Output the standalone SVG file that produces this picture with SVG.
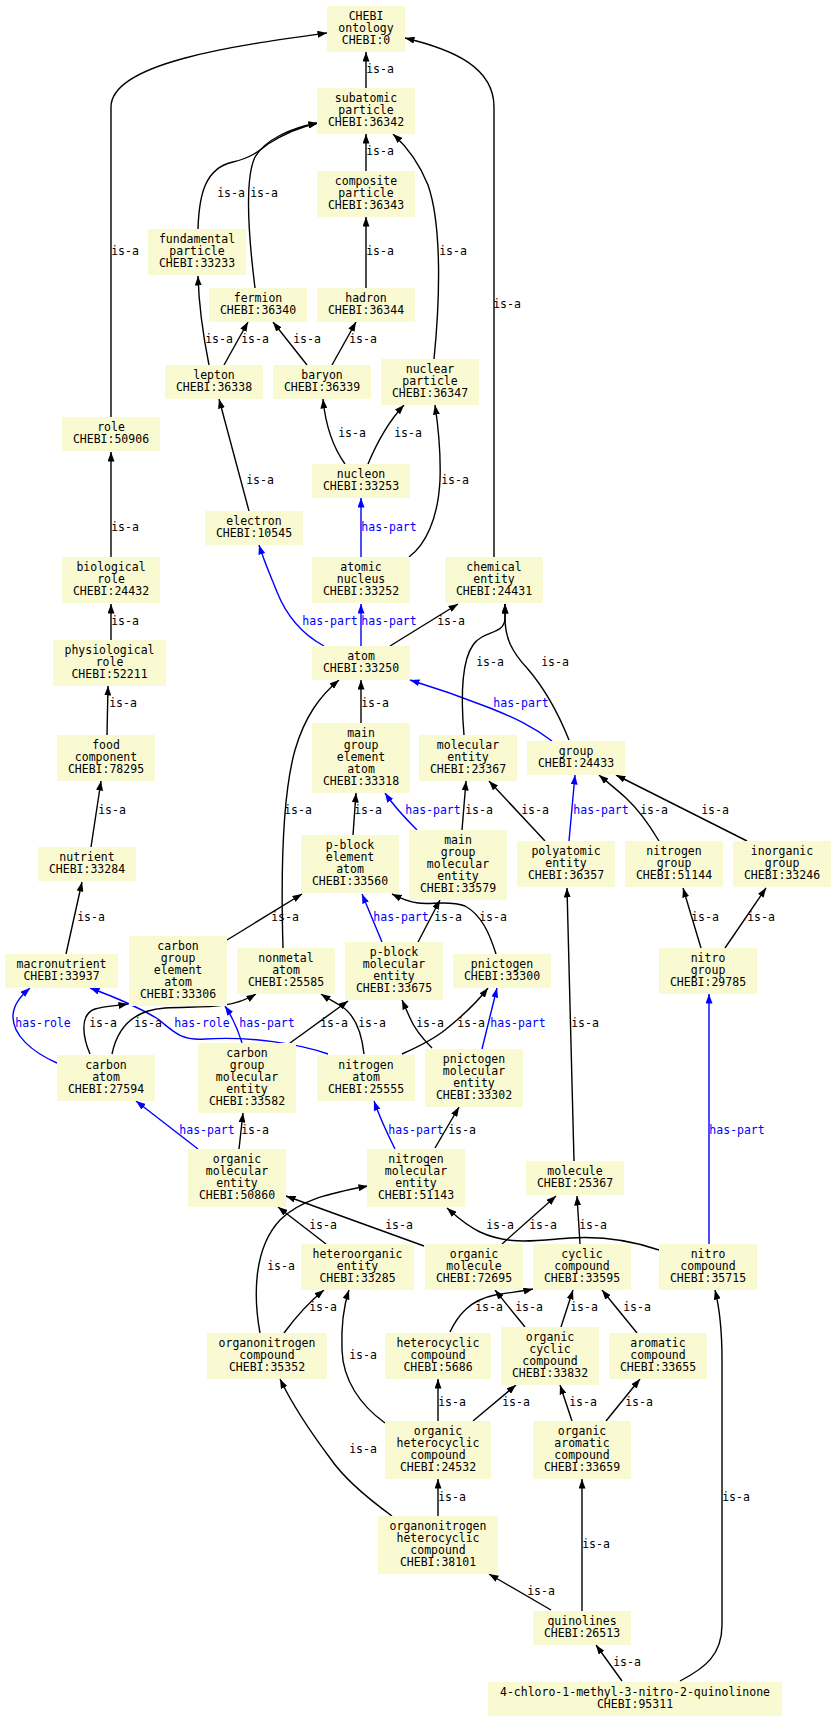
<svg xmlns="http://www.w3.org/2000/svg" width="837" height="1721" viewBox="0 0 837 1721">
<style>
.n rect{fill:#fafad2;stroke:none}
.n text,.l{font-family:"DejaVu Sans Mono",monospace;font-size:11.5px;text-anchor:middle;fill:#000}
.e path{fill:none;stroke:#000;stroke-width:1.4}
.e path.b{stroke:#0000ff}
.l.b{fill:#0000ff}
</style>
<defs>
<marker id="ak" markerUnits="userSpaceOnUse" markerWidth="10" markerHeight="7" refX="9.5" refY="3.5" orient="auto"><path d="M0,0 L9.5,3.5 L0,7 z" fill="#000"/></marker>
<marker id="ab" markerUnits="userSpaceOnUse" markerWidth="10" markerHeight="7" refX="9.5" refY="3.5" orient="auto"><path d="M0,0 L9.5,3.5 L0,7 z" fill="#0000ff"/></marker>
</defs>
<rect width="837" height="1721" fill="#fff"/>
<g id="connectors" class="e">
<path marker-end="url(#ak)" d="M366,88 L366,52"/>
<path marker-end="url(#ak)" d="M111,417 L111,107 C111,62 240,45 327,33"/>
<path marker-end="url(#ak)" d="M494,557 L494,107 C494,68 455,50 405,38"/>
<path marker-end="url(#ak)" d="M366,171 L366,134"/>
<path marker-end="url(#ak)" d="M198,229 C199,195 205,168 233,162 C250,158 258,152 268,144 C285,133 300,127 318,123"/>
<path marker-end="url(#ak)" d="M255,288 C249,240 244,180 255,157 C265,140 290,128 318,123"/>
<path marker-end="url(#ak)" d="M366,288 L366,217"/>
<path marker-end="url(#ak)" d="M434,359 C440,300 442,225 428,185 C418,160 405,145 393,134"/>
<path marker-end="url(#ak)" d="M209,365 C204,340 199,310 198,276"/>
<path marker-end="url(#ak)" d="M224,365 L248,322"/>
<path marker-end="url(#ak)" d="M307,365 L273,322"/>
<path marker-end="url(#ak)" d="M332,365 L356,322"/>
<path marker-end="url(#ak)" d="M345,464 C335,450 326,430 323,399"/>
<path marker-end="url(#ak)" d="M368,464 C378,440 390,420 404,405"/>
<path class="b" marker-end="url(#ab)" d="M361,557 L361,498"/>
<path marker-end="url(#ak)" d="M409,557 C425,545 438,520 440,480 C441,450 438,425 435,405"/>
<path marker-end="url(#ak)" d="M249,511 L219,399"/>
<path marker-end="url(#ak)" d="M111,557 L111,452"/>
<path class="b" marker-end="url(#ab)" d="M324,646 C300,633 285,612 277,592 C271,577 264,561 259,545"/>
<path class="b" marker-end="url(#ab)" d="M361,646 L361,604"/>
<path marker-end="url(#ak)" d="M390,646 L458,604"/>
<path marker-end="url(#ak)" d="M111,640 L111,604"/>
<path marker-end="url(#ak)" d="M107,735 L108,686"/>
<path marker-end="url(#ak)" d="M91,847 L101,781"/>
<path marker-end="url(#ak)" d="M361,723 L361,680"/>
<path marker-end="url(#ak)" d="M283,948 C281,880 281,800 295,750 C305,716 320,696 339,680"/>
<path class="b" marker-end="url(#ab)" d="M552,741 C532,726 515,718 490,708 C462,697 436,688 410,680"/>
<path marker-end="url(#ak)" d="M464,735 C461,700 461,662 473,645 C483,630 505,635 505,618 L505,604"/>
<path marker-end="url(#ak)" d="M569,740 C555,705 540,683 527,668 C512,652 505,638 505,618 L505,604"/>
<path marker-end="url(#ak)" d="M353,835 L356,793"/>
<path class="b" marker-end="url(#ab)" d="M417,830 C405,818 393,805 385,793"/>
<path marker-end="url(#ak)" d="M462,830 L466,781"/>
<path marker-end="url(#ak)" d="M545,841 L489,781"/>
<path class="b" marker-end="url(#ab)" d="M569,841 L575,775"/>
<path marker-end="url(#ak)" d="M659,841 C650,826 640,811 626,798 C616,789 606,781 599,775"/>
<path marker-end="url(#ak)" d="M747,841 L616,775"/>
<path marker-end="url(#ak)" d="M66,954 L82,882"/>
<path marker-end="url(#ak)" d="M227,940 L302,894"/>
<path class="b" marker-end="url(#ab)" d="M382,942 L362,894"/>
<path marker-end="url(#ak)" d="M417,944 L440,900"/>
<path marker-end="url(#ak)" d="M496,954 C490,935 482,915 465,906 C450,900 430,905 418,903 C405,901 398,897 392,894"/>
<path class="b" marker-end="url(#ab)" d="M57,1063 C32,1052 12,1035 13,1015 C14,1003 22,995 30,988"/>
<path class="b" marker-end="url(#ab)" d="M328,1054 C300,1044 250,1036 205,1039 C180,1041 172,1030 158,1019 C135,1005 112,996 90,988"/>
<path marker-end="url(#ak)" d="M90,1054 C84,1040 78,1015 95,1009 C105,1006 115,1006 128,1004"/>
<path marker-end="url(#ak)" d="M112,1054 C118,1025 135,1010 165,1008 C200,1006 230,1010 256,994"/>
<path class="b" marker-end="url(#ab)" d="M242,1043 C238,1030 231,1015 225,1006"/>
<path marker-end="url(#ak)" d="M290,1043 L348,1001"/>
<path marker-end="url(#ak)" d="M364,1054 C362,1035 357,1016 341,1006 C333,1001 327,998 321,994"/>
<path marker-end="url(#ak)" d="M402,1054 C420,1046 435,1038 445,1030 C460,1018 475,1005 488,988"/>
<path marker-end="url(#ak)" d="M432,1048 C424,1040 415,1030 410,1018 L402,1000"/>
<path class="b" marker-end="url(#ab)" d="M482,1049 L497,988"/>
<path marker-end="url(#ak)" d="M574,1161 L567,888"/>
<path marker-end="url(#ak)" d="M701,948 L683,888"/>
<path marker-end="url(#ak)" d="M725,948 L766,888"/>
<path class="b" marker-end="url(#ab)" d="M709,1244 L709,994"/>
<path class="b" marker-end="url(#ab)" d="M198,1149 L136,1101"/>
<path marker-end="url(#ak)" d="M239,1149 L243,1113"/>
<path class="b" marker-end="url(#ab)" d="M395,1149 C388,1135 380,1118 374,1101"/>
<path marker-end="url(#ak)" d="M435,1148 L459,1107"/>
<path marker-end="url(#ak)" d="M326,1244 L278,1207"/>
<path marker-end="url(#ak)" d="M424,1246 L286,1196"/>
<path marker-end="url(#ak)" d="M260,1333 C254,1300 252,1250 280,1220 C300,1200 330,1193 368,1186"/>
<path marker-end="url(#ak)" d="M284,1333 C295,1318 308,1303 324,1290"/>
<path marker-end="url(#ak)" d="M385,1423 C360,1405 343,1380 342,1350 C341,1325 344,1305 349,1290"/>
<path marker-end="url(#ak)" d="M392,1516 C370,1500 345,1480 330,1458 C315,1438 295,1410 280,1379"/>
<path marker-end="url(#ak)" d="M659,1250 C630,1240 600,1236 570,1238 C540,1240 510,1246 480,1232 C465,1225 455,1215 447,1208"/>
<path marker-end="url(#ak)" d="M502,1244 L556,1196"/>
<path marker-end="url(#ak)" d="M580,1244 L577,1196"/>
<path marker-end="url(#ak)" d="M450,1332 C458,1315 470,1300 495,1295 C510,1292 520,1292 533,1289"/>
<path marker-end="url(#ak)" d="M525,1327 L495,1290"/>
<path marker-end="url(#ak)" d="M561,1327 L573,1290"/>
<path marker-end="url(#ak)" d="M637,1333 L602,1290"/>
<path marker-end="url(#ak)" d="M438,1421 L438,1379"/>
<path marker-end="url(#ak)" d="M473,1421 L516,1385"/>
<path marker-end="url(#ak)" d="M572,1421 L560,1385"/>
<path marker-end="url(#ak)" d="M606,1421 L640,1379"/>
<path marker-end="url(#ak)" d="M438,1516 L438,1479"/>
<path marker-end="url(#ak)" d="M582,1611 L582,1479"/>
<path marker-end="url(#ak)" d="M551,1610 L489,1574"/>
<path marker-end="url(#ak)" d="M622,1681 L596,1645"/>
<path marker-end="url(#ak)" d="M680,1681 C705,1668 722,1655 722,1625 L722,1360 C722,1330 720,1310 715,1290"/>
</g>
<g id="edge-labels">
<text class="l" x="380" y="73">is-a</text>
<text class="l" x="125" y="255">is-a</text>
<text class="l" x="507" y="308">is-a</text>
<text class="l" x="380" y="155">is-a</text>
<text class="l" x="231" y="197">is-a</text>
<text class="l" x="264" y="197">is-a</text>
<text class="l" x="380" y="255">is-a</text>
<text class="l" x="453" y="255">is-a</text>
<text class="l" x="219" y="343">is-a</text>
<text class="l" x="255" y="343">is-a</text>
<text class="l" x="307" y="343">is-a</text>
<text class="l" x="363" y="343">is-a</text>
<text class="l" x="352" y="437">is-a</text>
<text class="l" x="408" y="437">is-a</text>
<text class="l b" x="389" y="531">has-part</text>
<text class="l" x="455" y="484">is-a</text>
<text class="l" x="260" y="484">is-a</text>
<text class="l" x="125" y="531">is-a</text>
<text class="l b" x="330" y="625">has-part</text>
<text class="l b" x="389" y="625">has-part</text>
<text class="l" x="451" y="625">is-a</text>
<text class="l" x="125" y="625">is-a</text>
<text class="l" x="123" y="707">is-a</text>
<text class="l" x="112" y="814">is-a</text>
<text class="l" x="375" y="707">is-a</text>
<text class="l" x="298" y="814">is-a</text>
<text class="l b" x="521" y="707">has-part</text>
<text class="l" x="490" y="666">is-a</text>
<text class="l" x="555" y="666">is-a</text>
<text class="l" x="368" y="814">is-a</text>
<text class="l b" x="433" y="814">has-part</text>
<text class="l" x="479" y="814">is-a</text>
<text class="l" x="535" y="814">is-a</text>
<text class="l b" x="601" y="814">has-part</text>
<text class="l" x="654" y="814">is-a</text>
<text class="l" x="715" y="814">is-a</text>
<text class="l" x="91" y="921">is-a</text>
<text class="l" x="285" y="921">is-a</text>
<text class="l b" x="401" y="921">has-part</text>
<text class="l" x="448" y="921">is-a</text>
<text class="l" x="493" y="921">is-a</text>
<text class="l b" x="43" y="1027">has-role</text>
<text class="l b" x="202" y="1027">has-role</text>
<text class="l" x="103" y="1027">is-a</text>
<text class="l" x="148" y="1027">is-a</text>
<text class="l b" x="267" y="1027">has-part</text>
<text class="l" x="334" y="1027">is-a</text>
<text class="l" x="372" y="1027">is-a</text>
<text class="l" x="471" y="1027">is-a</text>
<text class="l" x="430" y="1027">is-a</text>
<text class="l b" x="518" y="1027">has-part</text>
<text class="l" x="585" y="1027">is-a</text>
<text class="l" x="705" y="921">is-a</text>
<text class="l" x="761" y="921">is-a</text>
<text class="l b" x="737" y="1134">has-part</text>
<text class="l b" x="207" y="1134">has-part</text>
<text class="l" x="255" y="1134">is-a</text>
<text class="l b" x="416" y="1134">has-part</text>
<text class="l" x="462" y="1134">is-a</text>
<text class="l" x="323" y="1229">is-a</text>
<text class="l" x="399" y="1229">is-a</text>
<text class="l" x="281" y="1270">is-a</text>
<text class="l" x="323" y="1311">is-a</text>
<text class="l" x="363" y="1359">is-a</text>
<text class="l" x="363" y="1453">is-a</text>
<text class="l" x="500" y="1229">is-a</text>
<text class="l" x="543" y="1229">is-a</text>
<text class="l" x="593" y="1229">is-a</text>
<text class="l" x="489" y="1311">is-a</text>
<text class="l" x="529" y="1311">is-a</text>
<text class="l" x="584" y="1311">is-a</text>
<text class="l" x="637" y="1311">is-a</text>
<text class="l" x="452" y="1406">is-a</text>
<text class="l" x="516" y="1406">is-a</text>
<text class="l" x="583" y="1406">is-a</text>
<text class="l" x="639" y="1406">is-a</text>
<text class="l" x="452" y="1501">is-a</text>
<text class="l" x="596" y="1548">is-a</text>
<text class="l" x="541" y="1595">is-a</text>
<text class="l" x="627" y="1666">is-a</text>
<text class="l" x="736" y="1501">is-a</text>
</g>
<g id="n0" class="n"><rect x="327" y="6" width="78" height="46"/><text x="366" y="20">CHEBI</text><text x="366" y="32">ontology</text><text x="366" y="44">CHEBI:0</text></g>
<g id="n1" class="n"><rect x="317" y="88" width="98" height="46"/><text x="366" y="102">subatomic</text><text x="366" y="114">particle</text><text x="366" y="126">CHEBI:36342</text></g>
<g id="n2" class="n"><rect x="317" y="171" width="98" height="46"/><text x="366" y="185">composite</text><text x="366" y="197">particle</text><text x="366" y="209">CHEBI:36343</text></g>
<g id="n3" class="n"><rect x="148" y="229" width="98" height="46"/><text x="197" y="243">fundamental</text><text x="197" y="255">particle</text><text x="197" y="267">CHEBI:33233</text></g>
<g id="n4" class="n"><rect x="209" y="288" width="98" height="34"/><text x="258" y="302">fermion</text><text x="258" y="314">CHEBI:36340</text></g>
<g id="n5" class="n"><rect x="317" y="288" width="98" height="34"/><text x="366" y="302">hadron</text><text x="366" y="314">CHEBI:36344</text></g>
<g id="n6" class="n"><rect x="165" y="365" width="98" height="34"/><text x="214" y="379">lepton</text><text x="214" y="391">CHEBI:36338</text></g>
<g id="n7" class="n"><rect x="273" y="365" width="98" height="34"/><text x="322" y="379">baryon</text><text x="322" y="391">CHEBI:36339</text></g>
<g id="n8" class="n"><rect x="381" y="359" width="98" height="46"/><text x="430" y="373">nuclear</text><text x="430" y="385">particle</text><text x="430" y="397">CHEBI:36347</text></g>
<g id="n9" class="n"><rect x="62" y="417" width="98" height="34"/><text x="111" y="431">role</text><text x="111" y="443">CHEBI:50906</text></g>
<g id="n10" class="n"><rect x="312" y="464" width="98" height="34"/><text x="361" y="478">nucleon</text><text x="361" y="490">CHEBI:33253</text></g>
<g id="n11" class="n"><rect x="205" y="511" width="98" height="34"/><text x="254" y="525">electron</text><text x="254" y="537">CHEBI:10545</text></g>
<g id="n12" class="n"><rect x="62" y="557" width="98" height="46"/><text x="111" y="571">biological</text><text x="111" y="583">role</text><text x="111" y="595">CHEBI:24432</text></g>
<g id="n13" class="n"><rect x="312" y="557" width="98" height="46"/><text x="361" y="571">atomic</text><text x="361" y="583">nucleus</text><text x="361" y="595">CHEBI:33252</text></g>
<g id="n14" class="n"><rect x="445" y="557" width="98" height="46"/><text x="494" y="571">chemical</text><text x="494" y="583">entity</text><text x="494" y="595">CHEBI:24431</text></g>
<g id="n15" class="n"><rect x="53" y="640" width="113" height="46"/><text x="109.5" y="654">physiological</text><text x="109.5" y="666">role</text><text x="109.5" y="678">CHEBI:52211</text></g>
<g id="n16" class="n"><rect x="312" y="646" width="98" height="34"/><text x="361" y="660">atom</text><text x="361" y="672">CHEBI:33250</text></g>
<g id="n17" class="n"><rect x="57" y="735" width="98" height="46"/><text x="106" y="749">food</text><text x="106" y="761">component</text><text x="106" y="773">CHEBI:78295</text></g>
<g id="n18" class="n"><rect x="312" y="723" width="98" height="70"/><text x="361" y="737">main</text><text x="361" y="749">group</text><text x="361" y="761">element</text><text x="361" y="773">atom</text><text x="361" y="785">CHEBI:33318</text></g>
<g id="n19" class="n"><rect x="419" y="735" width="98" height="46"/><text x="468" y="749">molecular</text><text x="468" y="761">entity</text><text x="468" y="773">CHEBI:23367</text></g>
<g id="n20" class="n"><rect x="527" y="741" width="98" height="34"/><text x="576" y="755">group</text><text x="576" y="767">CHEBI:24433</text></g>
<g id="n21" class="n"><rect x="409" y="830" width="98" height="70"/><text x="458" y="844">main</text><text x="458" y="856">group</text><text x="458" y="868">molecular</text><text x="458" y="880">entity</text><text x="458" y="892">CHEBI:33579</text></g>
<g id="n22" class="n"><rect x="517" y="841" width="98" height="46"/><text x="566" y="855">polyatomic</text><text x="566" y="867">entity</text><text x="566" y="879">CHEBI:36357</text></g>
<g id="n23" class="n"><rect x="625" y="841" width="98" height="46"/><text x="674" y="855">nitrogen</text><text x="674" y="867">group</text><text x="674" y="879">CHEBI:51144</text></g>
<g id="n24" class="n"><rect x="733" y="841" width="98" height="46"/><text x="782" y="855">inorganic</text><text x="782" y="867">group</text><text x="782" y="879">CHEBI:33246</text></g>
<g id="n25" class="n"><rect x="38" y="847" width="98" height="34"/><text x="87" y="861">nutrient</text><text x="87" y="873">CHEBI:33284</text></g>
<g id="n26" class="n"><rect x="301" y="835" width="98" height="58"/><text x="350" y="849">p-block</text><text x="350" y="861">element</text><text x="350" y="873">atom</text><text x="350" y="885">CHEBI:33560</text></g>
<g id="n27" class="n"><rect x="5" y="954" width="113" height="34"/><text x="61.5" y="968">macronutrient</text><text x="61.5" y="980">CHEBI:33937</text></g>
<g id="n28" class="n"><rect x="129" y="936" width="98" height="70"/><text x="178" y="950">carbon</text><text x="178" y="962">group</text><text x="178" y="974">element</text><text x="178" y="986">atom</text><text x="178" y="998">CHEBI:33306</text></g>
<g id="n29" class="n"><rect x="237" y="948" width="98" height="46"/><text x="286" y="962">nonmetal</text><text x="286" y="974">atom</text><text x="286" y="986">CHEBI:25585</text></g>
<g id="n30" class="n"><rect x="345" y="942" width="98" height="58"/><text x="394" y="956">p-block</text><text x="394" y="968">molecular</text><text x="394" y="980">entity</text><text x="394" y="992">CHEBI:33675</text></g>
<g id="n31" class="n"><rect x="453" y="954" width="98" height="34"/><text x="502" y="968">pnictogen</text><text x="502" y="980">CHEBI:33300</text></g>
<g id="n32" class="n"><rect x="659" y="948" width="98" height="46"/><text x="708" y="962">nitro</text><text x="708" y="974">group</text><text x="708" y="986">CHEBI:29785</text></g>
<g id="n33" class="n"><rect x="57" y="1055" width="98" height="46"/><text x="106" y="1069">carbon</text><text x="106" y="1081">atom</text><text x="106" y="1093">CHEBI:27594</text></g>
<g id="n34" class="n"><rect x="198" y="1043" width="98" height="70"/><text x="247" y="1057">carbon</text><text x="247" y="1069">group</text><text x="247" y="1081">molecular</text><text x="247" y="1093">entity</text><text x="247" y="1105">CHEBI:33582</text></g>
<g id="n35" class="n"><rect x="317" y="1055" width="98" height="46"/><text x="366" y="1069">nitrogen</text><text x="366" y="1081">atom</text><text x="366" y="1093">CHEBI:25555</text></g>
<g id="n36" class="n"><rect x="425" y="1049" width="98" height="58"/><text x="474" y="1063">pnictogen</text><text x="474" y="1075">molecular</text><text x="474" y="1087">entity</text><text x="474" y="1099">CHEBI:33302</text></g>
<g id="n37" class="n"><rect x="188" y="1149" width="98" height="58"/><text x="237" y="1163">organic</text><text x="237" y="1175">molecular</text><text x="237" y="1187">entity</text><text x="237" y="1199">CHEBI:50860</text></g>
<g id="n38" class="n"><rect x="367" y="1149" width="98" height="58"/><text x="416" y="1163">nitrogen</text><text x="416" y="1175">molecular</text><text x="416" y="1187">entity</text><text x="416" y="1199">CHEBI:51143</text></g>
<g id="n39" class="n"><rect x="526" y="1161" width="98" height="34"/><text x="575" y="1175">molecule</text><text x="575" y="1187">CHEBI:25367</text></g>
<g id="n40" class="n"><rect x="301" y="1244" width="113" height="46"/><text x="357.5" y="1258">heteroorganic</text><text x="357.5" y="1270">entity</text><text x="357.5" y="1282">CHEBI:33285</text></g>
<g id="n41" class="n"><rect x="425" y="1244" width="98" height="46"/><text x="474" y="1258">organic</text><text x="474" y="1270">molecule</text><text x="474" y="1282">CHEBI:72695</text></g>
<g id="n42" class="n"><rect x="533" y="1244" width="98" height="46"/><text x="582" y="1258">cyclic</text><text x="582" y="1270">compound</text><text x="582" y="1282">CHEBI:33595</text></g>
<g id="n43" class="n"><rect x="659" y="1244" width="98" height="46"/><text x="708" y="1258">nitro</text><text x="708" y="1270">compound</text><text x="708" y="1282">CHEBI:35715</text></g>
<g id="n44" class="n"><rect x="207" y="1333" width="120" height="46"/><text x="267" y="1347">organonitrogen</text><text x="267" y="1359">compound</text><text x="267" y="1371">CHEBI:35352</text></g>
<g id="n45" class="n"><rect x="385" y="1333" width="106" height="46"/><text x="438" y="1347">heterocyclic</text><text x="438" y="1359">compound</text><text x="438" y="1371">CHEBI:5686</text></g>
<g id="n46" class="n"><rect x="501" y="1327" width="98" height="58"/><text x="550" y="1341">organic</text><text x="550" y="1353">cyclic</text><text x="550" y="1365">compound</text><text x="550" y="1377">CHEBI:33832</text></g>
<g id="n47" class="n"><rect x="609" y="1333" width="98" height="46"/><text x="658" y="1347">aromatic</text><text x="658" y="1359">compound</text><text x="658" y="1371">CHEBI:33655</text></g>
<g id="n48" class="n"><rect x="385" y="1421" width="106" height="58"/><text x="438" y="1435">organic</text><text x="438" y="1447">heterocyclic</text><text x="438" y="1459">compound</text><text x="438" y="1471">CHEBI:24532</text></g>
<g id="n49" class="n"><rect x="533" y="1421" width="98" height="58"/><text x="582" y="1435">organic</text><text x="582" y="1447">aromatic</text><text x="582" y="1459">compound</text><text x="582" y="1471">CHEBI:33659</text></g>
<g id="n50" class="n"><rect x="378" y="1516" width="120" height="58"/><text x="438" y="1530">organonitrogen</text><text x="438" y="1542">heterocyclic</text><text x="438" y="1554">compound</text><text x="438" y="1566">CHEBI:38101</text></g>
<g id="n51" class="n"><rect x="533" y="1611" width="98" height="34"/><text x="582" y="1625">quinolines</text><text x="582" y="1637">CHEBI:26513</text></g>
<g id="n52" class="n"><rect x="488" y="1682" width="294" height="34"/><text x="635" y="1696">4-chloro-1-methyl-3-nitro-2-quinolinone</text><text x="635" y="1708">CHEBI:95311</text></g>
</svg>
